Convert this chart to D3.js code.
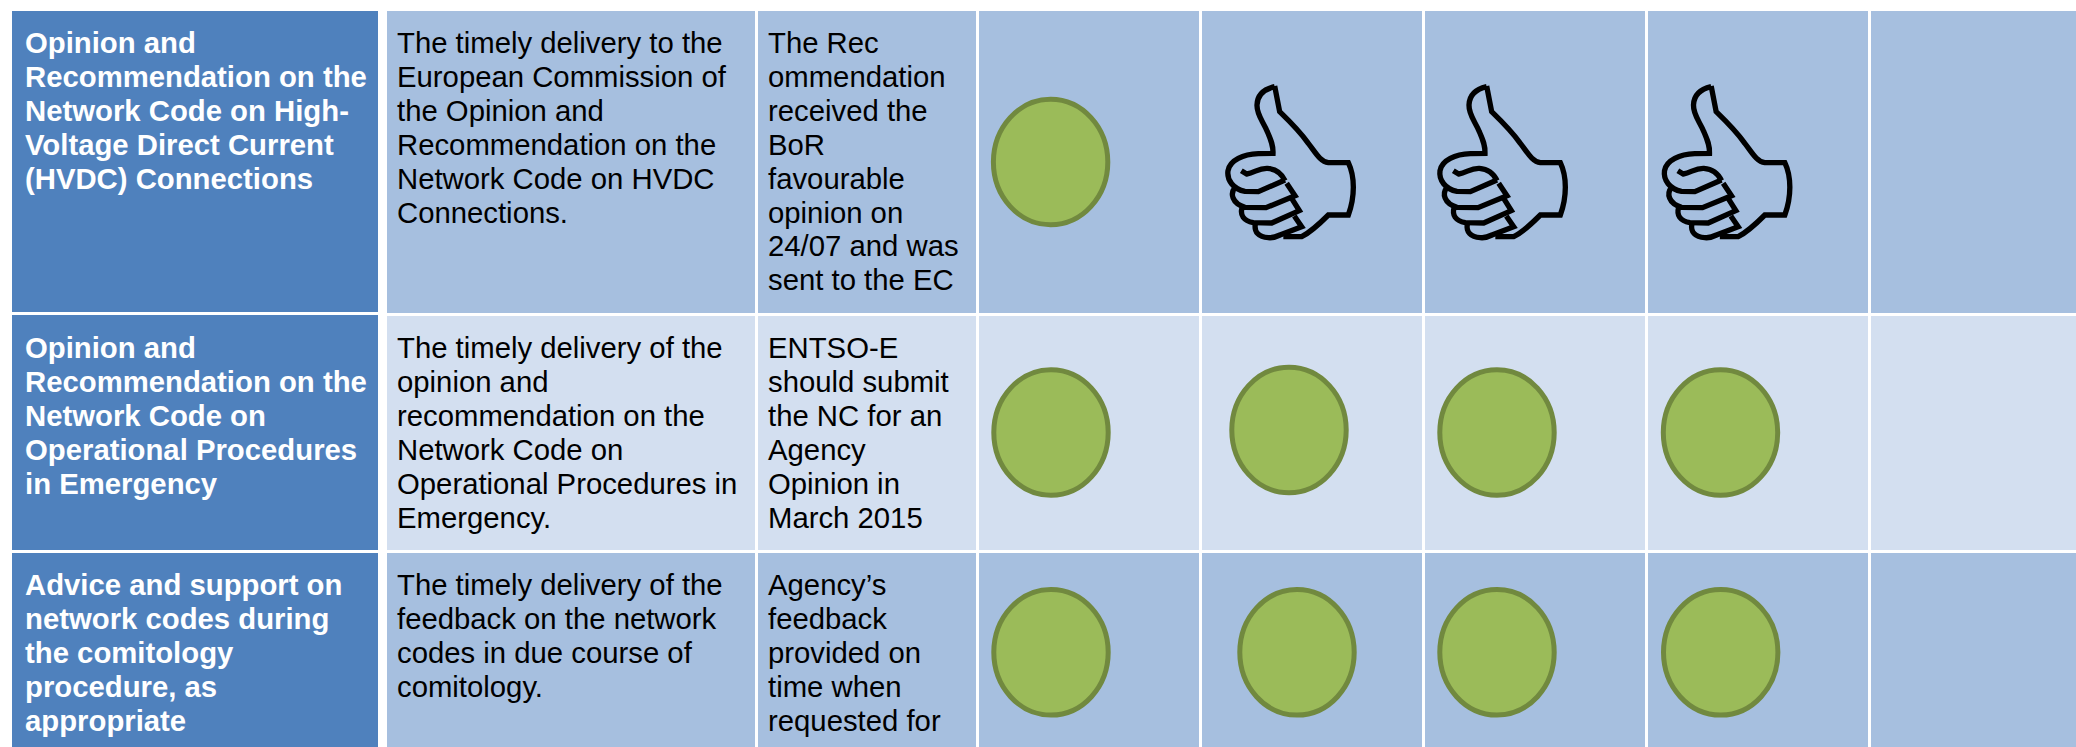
<!DOCTYPE html>
<html>
<head>
<meta charset="utf-8">
<style>
  html, body { margin: 0; padding: 0; background: #fff; overflow: hidden; }
  text { font-family: "Liberation Sans", Arial, sans-serif; font-size: 29.3px; }
</style>
<script src="https://cdn.jsdelivr.net/npm/d3@7"></script>
</head>
<body>
<svg id="chart" width="2076" height="747"></svg>
<script>
const titles = [
  ["Opinion and", "Recommendation on the", "Network Code on High-", "Voltage Direct Current", "(HVDC) Connections"],
  ["Opinion and", "Recommendation on the", "Network Code on", "Operational Procedures", "in Emergency"],
  ["Advice and support on", "network codes during", "the comitology", "procedure, as", "appropriate"],
];
const deliverables = [
  ["The timely delivery to the", "European Commission of", "the Opinion and", "Recommendation on the", "Network Code on HVDC", "Connections."],
  ["The timely delivery of the", "opinion and", "recommendation on the", "Network Code on", "Operational Procedures in", "Emergency."],
  ["The timely delivery of the", "feedback on the network", "codes in due course of", "comitology."],
];
const notes = [
  ["The Rec", "ommendation", "received the", "BoR", "favourable", "opinion on", "24/07 and was", "sent to the EC"],
  ["ENTSO-E", "should submit", "the NC for an", "Agency", "Opinion in", "March 2015"],
  ["Agency’s", "feedback", "provided on", "time when", "requested for"],
];
// status per quarter column, "" = still empty
const statuses = [
  ["circle", "thumb", "thumb", "thumb", ""],
  ["circle", "circle", "circle", "circle", ""],
  ["circle", "circle", "circle", "circle", ""],
];

const rows = [0, 1, 2];
const columns = ["title", "deliverable", "note", "q1", "q2", "q3", "q4", "q5"];

// layout
const colLeft = d3.scaleOrdinal(columns, [12, 387, 758, 979, 1202, 1425, 1648, 1871]);
const colRight = d3.scaleOrdinal(columns, [378, 755, 976, 1199, 1422, 1645, 1868, 2076]);
const rowTop = d3.scaleOrdinal(rows, [11, 316, 553]);
const rowBottom = d3.scaleOrdinal(rows, [313, 550, 747]);
const titleTop = d3.scaleOrdinal(rows, [11, 315, 553]);
const titleBottom = d3.scaleOrdinal(rows, [312, 550, 747]);
const rowFill = d3.scaleOrdinal(rows, ["#a6bfdf", "#d3dff0", "#a6bfdf"]);
const firstBaseline = d3.scaleOrdinal(rows, [53, 358, 595]);
const lineHeight = 33.9;
const textX = d3.scaleOrdinal(["title", "deliverable", "note"], [25, 397, 768]);

// the symbols were placed by hand in the source, so they sit off-centre
const markX = [
  [1050.6, 1180, 1392, 1616.5],
  [1051, 1289, 1497, 1720.5],
  [1051, 1297, 1497, 1720.7],
];
const markY = [
  [162, 50, 50, 50],
  [432.5, 430, 432.5, 432.5],
  [652.3, 652.3, 652.3, 652.3],
];

const svg = d3.select("#chart");

const cells = rows.flatMap((r) => columns.map((c) => ({ r, c })));
svg.append("g")
  .selectAll("rect")
  .data(cells)
  .join("rect")
  .attr("x", (d) => colLeft(d.c))
  .attr("y", (d) => (d.c === "title" ? titleTop(d.r) : rowTop(d.r)))
  .attr("width", (d) => colRight(d.c) - colLeft(d.c))
  .attr("height", (d) =>
    d.c === "title" ? titleBottom(d.r) - titleTop(d.r) : rowBottom(d.r) - rowTop(d.r)
  )
  .attr("fill", (d) => (d.c === "title" ? "#4f81bd" : rowFill(d.r)));

function addLines(key, lines, color, weight) {
  const g = svg.append("g").attr("fill", color).attr("font-weight", weight);
  lines.forEach((cell, r) => {
    g.selectAll(null)
      .data(cell)
      .join("text")
      .attr("x", textX(key))
      .attr("y", (d, i) => firstBaseline(r) + i * lineHeight)
      .text((d) => d);
  });
}
addLines("title", titles, "#fff", "bold");
addLines("deliverable", deliverables, "#000", "normal");
addLines("note", notes, "#000", "normal");

// thumbs-up outline, drawn in 1/3 pixel units
const thumbPaths = [
  "M284 110 C250 118 232 135 231 165 C230 195 250 215 262 245 C272 268 280 285 279 310 L235 311 C190 313 150 330 144 362 C140 390 160 418 195 424 L235 425 L315 390",
  "M184 362 L200 372 C225 368 235 354 262 355 C290 357 305 370 315 392",
  "M165 412 C150 430 155 460 195 472 L258 473 L345 437 L320 400",
  "M186 474 C180 495 190 512 220 518 L275 519 L358 482 L335 445",
  "M226 522 C222 545 235 562 265 563 C280 565 290 560 300 555 L365 530 L343 498",
  "M284 108 L299 185 C330 215 360 245 385 280 C405 305 420 335 445 338 L505 338 C525 380 525 440 505 495 L445 495 C425 515 395 545 365 560 L310 560",
];

const markG = svg.append("g");
statuses.forEach((row, r) => {
  row.forEach((status, i) => {
    if (status === "circle") {
      markG.append("ellipse")
        .attr("cx", markX[r][i])
        .attr("cy", markY[r][i])
        .attr("rx", 57.2)
        .attr("ry", 62.8)
        .attr("fill", "#9bbb59")
        .attr("stroke", "#71893f")
        .attr("stroke-width", 5);
    } else if (status === "thumb") {
      markG.append("g")
        .attr("transform", `translate(${markX[r][i]},${markY[r][i]}) scale(${1 / 3})`)
        .selectAll("path")
        .data(thumbPaths)
        .join("path")
        .attr("d", (d) => d)
        .attr("fill", "none")
        .attr("stroke", "#000")
        .attr("stroke-width", 16);
    }
  });
});
</script>
</body>
</html>
